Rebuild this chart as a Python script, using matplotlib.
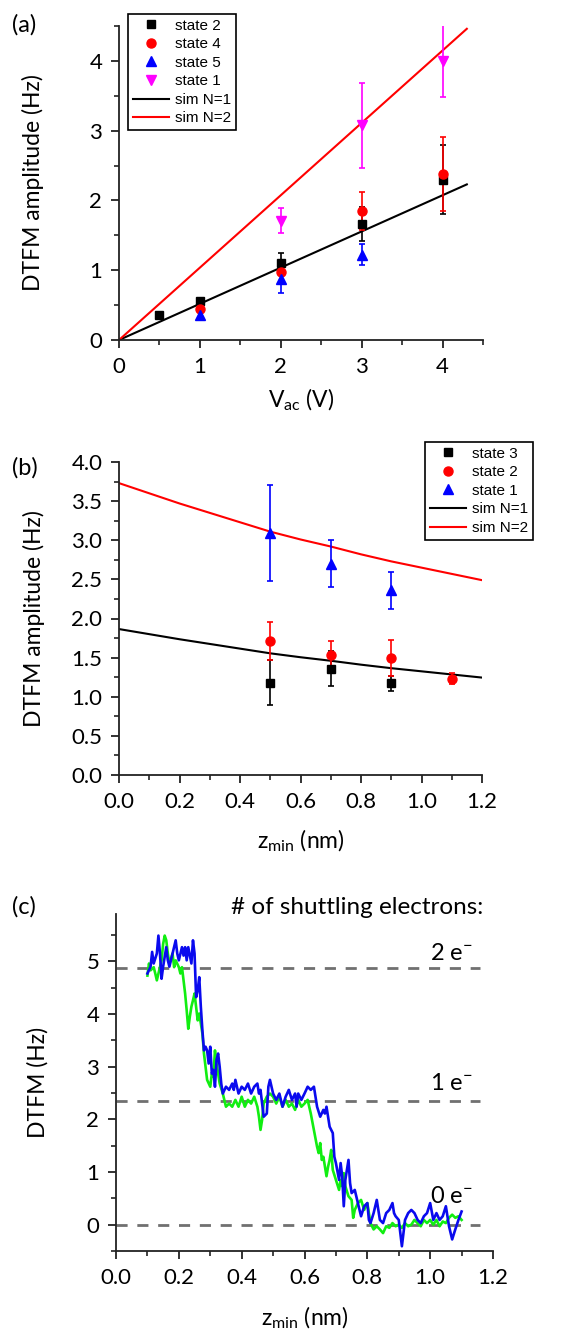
import numpy as np
import matplotlib
matplotlib.use('Agg')
import matplotlib.pyplot as plt
from matplotlib.ticker import MultipleLocator

plt.rcParams['font.family'] = ['Lato', 'DejaVu Sans']
plt.rcParams['mathtext.fontset'] = 'custom'
plt.rcParams['mathtext.rm'] = 'Lato'
plt.rcParams['mathtext.it'] = 'Lato'

# ---- panel (a) data ----
va_s2 = [0.5, 1, 2, 3, 4]
amp_s2 = [0.36, 0.56, 1.11, 1.66, 2.30]
err_s2 = [0.03, 0.04, 0.14, 0.24, 0.50]
va_s4 = [1, 2, 3, 4]
amp_s4 = [0.45, 0.97, 1.85, 2.38]
err_s4 = [0.04, 0.12, 0.27, 0.53]
va_s5 = [1, 2, 3]
amp_s5 = [0.36, 0.88, 1.22]
err_s5 = [0.05, 0.21, 0.15]
va_s1 = [2, 3, 4]
amp_s1 = [1.71, 3.08, 4.00]
err_s1 = [0.18, 0.61, 0.52]
sim_va = [0.0, 4.3]
sim_a_n1 = [0.0, 2.23]
sim_a_n2 = [0.0, 4.46]

# ---- panel (b) data ----
zb_s3 = [0.5, 0.7, 0.9]
amp_b_s3 = [1.18, 1.36, 1.17]
err_b_s3 = [0.29, 0.22, 0.10]
zb_s2 = [0.5, 0.7, 0.9, 1.1]
amp_b_s2 = [1.71, 1.53, 1.49, 1.23]
err_b_s2 = [0.24, 0.18, 0.23, 0.07]
zb_s1 = [0.5, 0.7, 0.9]
amp_b_s1 = [3.09, 2.70, 2.36]
err_b_s1 = [0.61, 0.30, 0.24]
sim_z = [0.0, 0.1, 0.2, 0.3, 0.4, 0.5, 0.6, 0.7, 0.8, 0.9, 1.0, 1.1, 1.2]
sim_b_n2 = [3.73, 3.60, 3.47, 3.35, 3.23, 3.11, 3.01, 2.92, 2.82, 2.73, 2.65, 2.57, 2.49]
sim_b_n1 = [1.865, 1.80, 1.735, 1.675, 1.615, 1.555, 1.505, 1.46, 1.41, 1.365, 1.325, 1.285, 1.245]

# ---- panel (c) data ----
z_blue = [0.100, 0.110, 0.115, 0.120, 0.130, 0.135, 0.140, 0.145, 0.150, 0.160,
          0.165, 0.170, 0.180, 0.190, 0.195, 0.200, 0.210, 0.215, 0.220, 0.225,
          0.230, 0.240, 0.245, 0.250, 0.255, 0.260, 0.265, 0.270, 0.275, 0.280,
          0.285, 0.290, 0.295, 0.300, 0.305, 0.310, 0.315, 0.320, 0.325, 0.330,
          0.335, 0.340, 0.350, 0.360, 0.370, 0.375, 0.380, 0.390, 0.400, 0.410,
          0.420, 0.430, 0.440, 0.450, 0.455, 0.460, 0.465, 0.470, 0.480, 0.485,
          0.490, 0.500, 0.510, 0.520, 0.530, 0.540, 0.550, 0.560, 0.570, 0.575,
          0.580, 0.590, 0.600, 0.610, 0.620, 0.630, 0.640, 0.650, 0.660, 0.665,
          0.670, 0.680, 0.690, 0.695, 0.700, 0.710, 0.715, 0.720, 0.725, 0.730,
          0.740, 0.745, 0.750, 0.760, 0.770, 0.780, 0.790, 0.800, 0.805, 0.810,
          0.820, 0.830, 0.840, 0.850, 0.860, 0.870, 0.880, 0.885, 0.890, 0.900,
          0.910, 0.920, 0.930, 0.940, 0.950, 0.960, 0.970, 0.980, 0.990, 1.000,
          1.010, 1.020, 1.030, 1.040, 1.050, 1.060, 1.070, 1.080, 1.090, 1.100]
df_blue = [4.77, 4.90, 5.18, 4.96, 5.15, 5.49, 5.15, 4.67, 4.90, 5.27,
           5.02, 4.90, 5.15, 5.40, 5.15, 5.02, 5.27, 5.11, 5.27, 5.02,
           5.27, 4.96, 5.40, 5.15, 4.32, 4.45, 4.70, 4.14, 3.69, 3.31,
           3.38, 3.31, 3.06, 3.38, 2.87, 2.94, 2.62, 3.13, 3.25, 3.00,
           2.68, 2.49, 2.62, 2.56, 2.68, 2.56, 2.75, 2.49, 2.62, 2.56,
           2.68, 2.49, 2.62, 2.68, 2.49, 2.56, 2.30, 2.05, 2.11, 2.62,
           2.75, 2.49, 2.37, 2.49, 2.24, 2.43, 2.56, 2.37, 2.49, 2.24,
           2.49, 2.37, 2.49, 2.62, 2.56, 2.62, 2.24, 2.05, 2.18, 2.11,
           2.24, 1.86, 1.74, 1.29, 1.17, 0.85, 1.17, 0.92, 0.35, 0.85,
           1.23, 0.79, 0.60, 0.66, 0.41, 0.16, 0.35, 0.41, 0.09, 0.03,
           0.22, 0.47, 0.09, 0.03, 0.22, 0.28, 0.41, 0.22, 0.16, 0.09,
           -0.41, 0.09, 0.22, 0.28, 0.22, 0.09, 0.03, 0.16, 0.22, 0.41,
           0.09, 0.22, 0.09, 0.16, 0.35, -0.03, -0.28, -0.09, 0.09, 0.25]
z_green = [0.100, 0.105, 0.110, 0.120, 0.125, 0.130, 0.140, 0.145, 0.150, 0.155,
           0.160, 0.165, 0.170, 0.180, 0.185, 0.190, 0.200, 0.205, 0.210, 0.215,
           0.220, 0.225, 0.230, 0.235, 0.240, 0.245, 0.250, 0.255, 0.260, 0.265,
           0.270, 0.275, 0.280, 0.285, 0.290, 0.300, 0.305, 0.310, 0.315, 0.320,
           0.330, 0.340, 0.350, 0.360, 0.370, 0.380, 0.390, 0.400, 0.410, 0.420,
           0.430, 0.440, 0.450, 0.455, 0.460, 0.465, 0.470, 0.480, 0.490, 0.500,
           0.510, 0.520, 0.530, 0.540, 0.550, 0.560, 0.570, 0.580, 0.590, 0.600,
           0.610, 0.620, 0.630, 0.640, 0.645, 0.650, 0.655, 0.660, 0.665, 0.670,
           0.675, 0.680, 0.685, 0.690, 0.700, 0.710, 0.715, 0.720, 0.725, 0.730,
           0.740, 0.750, 0.755, 0.760, 0.770, 0.780, 0.790, 0.800, 0.810, 0.820,
           0.830, 0.840, 0.850, 0.860, 0.870, 0.880, 0.890, 0.900, 0.910, 0.920,
           0.930, 0.940, 0.950, 0.960, 0.970, 0.980, 0.990, 1.000, 1.010, 1.020,
           1.030, 1.040, 1.050, 1.060, 1.070, 1.080, 1.090, 1.100]
df_green = [4.73, 4.96, 4.83, 4.89, 4.77, 4.64, 4.89, 5.02, 5.33, 5.49,
            5.40, 5.15, 4.96, 5.15, 4.89, 5.02, 4.89, 4.77, 4.89, 4.64,
            4.39, 4.07, 3.72, 3.95, 4.14, 4.26, 4.39, 4.14, 3.88, 4.01,
            3.82, 3.63, 3.25, 3.00, 2.75, 2.62, 2.87, 2.81, 3.31, 3.06,
            2.68, 2.49, 2.24, 2.30, 2.24, 2.37, 2.24, 2.43, 2.24, 2.37,
            2.30, 2.43, 2.24, 2.05, 1.80, 1.99, 2.30, 2.43, 2.49, 2.43,
            2.30, 2.43, 2.24, 2.37, 2.24, 2.30, 2.18, 2.37, 2.24, 2.30,
            2.37, 2.11, 1.80, 1.48, 1.36, 1.55, 1.23, 1.29, 1.10, 0.92,
            1.10, 1.23, 1.42, 1.04, 0.85, 0.66, 0.85, 0.73, 0.98, 0.73,
            0.54, 0.47, 0.13, 0.28, 0.41, 0.47, 0.28, 0.41, 0.03, -0.09,
            -0.03, -0.09, -0.16, -0.03, -0.06, 0.03, -0.03, 0.00, -0.06, 0.03,
            -0.03, 0.00, 0.09, 0.03, -0.03, 0.09, 0.03, 0.09, 0.00, 0.09,
            -0.03, 0.06, 0.03, 0.13, 0.19, 0.13, 0.16, 0.09]
levels = [4.87, 2.35, 0.0]
level_labels = ['2 e$^{-}$', '1 e$^{-}$', '0 e$^{-}$']
level_label_y = [5.15, 2.69, 0.53]

W, H = 570, 1332
fig = plt.figure(figsize=(W / 100, H / 100), dpi=100)


def ax_at(l, t, r, b):
    return fig.add_axes([l / W, 1 - b / H, (r - l) / W, (b - t) / H])


def style(ax):
    for s in ['top', 'right']:
        ax.spines[s].set_visible(False)
    for s in ['left', 'bottom']:
        ax.spines[s].set_linewidth(1.3)
        ax.spines[s].set_color('#222222')
    ax.tick_params(which='major', direction='out', length=6, width=1.3,
                   labelsize=16, color='#222222', pad=6)
    ax.tick_params(which='minor', direction='out', length=3.5, width=1.2,
                   color='#222222')


ms = 5.5
ekw = dict(capsize=2.5, elinewidth=1.2, capthick=1.2, linestyle='none')

# ---------------- (a) ----------------
ax1 = ax_at(119, 26, 483, 340)
style(ax1)
ax1.plot(sim_va, sim_a_n1, color='black', lw=1.5, label='sim N=1')
ax1.plot(sim_va, sim_a_n2, color='red', lw=1.5, label='sim N=2')
h2 = ax1.errorbar(va_s2, amp_s2, yerr=err_s2, fmt='s', color='black', ms=ms, **ekw)
h4 = ax1.errorbar(va_s4, amp_s4, yerr=err_s4, fmt='o', color='red', ms=ms + 1, **ekw)
h5 = ax1.errorbar(va_s5, amp_s5, yerr=err_s5, fmt='^', color='blue', ms=ms + 1, **ekw)
h1 = ax1.errorbar(va_s1, amp_s1, yerr=err_s1, fmt='v', color='magenta', ms=ms + 1, **ekw)
ax1.set_xlim(0, 4.5)
ax1.set_ylim(0, 4.5)
ax1.xaxis.set_major_locator(MultipleLocator(1))
ax1.xaxis.set_minor_locator(MultipleLocator(0.5))
ax1.yaxis.set_major_locator(MultipleLocator(1))
ax1.yaxis.set_minor_locator(MultipleLocator(0.5))
ax1.set_ylabel('DTFM amplitude (Hz)', fontsize=16.5)
ax1.yaxis.set_label_coords(-0.205, 0.5)
ax1.set_xlabel('V$_{\\mathregular{ac}}$ (V)', fontsize=16.5)
ax1.xaxis.set_label_coords(0.5, -0.15)
lines1 = ax1.get_lines()
leg1 = ax1.legend([h2[0], h4[0], h5[0], h1[0], lines1[0], lines1[1]],
                  ['state 2', 'state 4', 'state 5', 'state 1', 'sim N=1', 'sim N=2'],
                  loc='upper left', bbox_to_anchor=(128 / W, 1 - 14 / H),
                  bbox_transform=fig.transFigure, fancybox=False, framealpha=1,
                  edgecolor='black', prop={'family': 'Liberation Sans', 'size': 11},
                  handlelength=2.4, handletextpad=0.4, labelspacing=0.3,
                  borderpad=0.3, borderaxespad=0)
leg1.get_frame().set_linewidth(1.2)
fig.text(12 / W, 1 - 25 / H, '(a)', fontsize=17, va='center', ha='left')

# ---------------- (b) ----------------
ax2 = ax_at(119, 462, 482, 775)
style(ax2)
ax2.plot(sim_z, sim_b_n1, color='black', lw=1.5)
ax2.plot(sim_z, sim_b_n2, color='red', lw=1.5)
g3 = ax2.errorbar(zb_s3, amp_b_s3, yerr=err_b_s3, fmt='s', color='black', ms=ms, **ekw)
g2 = ax2.errorbar(zb_s2, amp_b_s2, yerr=err_b_s2, fmt='o', color='red', ms=ms + 1, **ekw)
g1 = ax2.errorbar(zb_s1, amp_b_s1, yerr=err_b_s1, fmt='^', color='blue', ms=ms + 1, **ekw)
ax2.set_xlim(0, 1.2)
ax2.set_ylim(0, 4.0)
ax2.xaxis.set_major_locator(MultipleLocator(0.2))
ax2.xaxis.set_minor_locator(MultipleLocator(0.1))
ax2.yaxis.set_major_locator(MultipleLocator(0.5))
ax2.yaxis.set_minor_locator(MultipleLocator(0.25))
ax2.xaxis.set_major_formatter(lambda v, p: '%.1f' % v)
ax2.yaxis.set_major_formatter(lambda v, p: '%.1f' % v)
ax2.set_ylabel('DTFM amplitude (Hz)', fontsize=16.5)
ax2.yaxis.set_label_coords(-0.205, 0.5)
ax2.set_xlabel('z$_{\\mathregular{min}}$ (nm)', fontsize=16.5)
ax2.xaxis.set_label_coords(0.5, -0.17)
lines2 = ax2.get_lines()
leg2 = ax2.legend([g3[0], g2[0], g1[0], lines2[0], lines2[1]],
                  ['state 3', 'state 2', 'state 1', 'sim N=1', 'sim N=2'],
                  loc='upper left', bbox_to_anchor=(425 / W, 1 - 442 / H),
                  bbox_transform=fig.transFigure, fancybox=False, framealpha=1,
                  edgecolor='black', prop={'family': 'Liberation Sans', 'size': 11},
                  handlelength=2.4, handletextpad=0.4, labelspacing=0.3,
                  borderpad=0.3, borderaxespad=0)
leg2.get_frame().set_linewidth(1.2)
fig.text(12 / W, 1 - 468 / H, '(b)', fontsize=17, va='center', ha='left')

# ---------------- (c) ----------------
ax3 = ax_at(116, 914, 493, 1251)
style(ax3)
for lv in levels:
    ax3.plot([0, 1.16], [lv, lv], color='#707070', lw=2, dashes=(4, 3.5))
ax3.plot(z_green, df_green, color='#11ee11', lw=1.9)
ax3.plot(z_blue, df_blue, color='#0a0aee', lw=1.9)
for lab, ly in zip(level_labels, level_label_y):
    ax3.text(1.135, ly, lab, fontsize=17, ha='right', va='center')
ax3.set_xlim(0, 1.2)
ax3.set_ylim(-0.5, 5.9)
ax3.xaxis.set_major_locator(MultipleLocator(0.2))
ax3.xaxis.set_minor_locator(MultipleLocator(0.1))
ax3.yaxis.set_major_locator(MultipleLocator(1))
ax3.yaxis.set_minor_locator(MultipleLocator(0.5))
ax3.set_yticks([0, 1, 2, 3, 4, 5])
ax3.xaxis.set_major_formatter(lambda v, p: '%.1f' % v)
ax3.set_ylabel('DTFM (Hz)', fontsize=16.5)
ax3.yaxis.set_label_coords(-0.18, 0.5)
ax3.set_xlabel('z$_{\\mathregular{min}}$ (nm)', fontsize=16.5)
ax3.xaxis.set_label_coords(0.5, -0.16)
fig.text(483 / W, 1 - 907 / H, '# of shuttling electrons:', fontsize=17.5,
         ha='right', va='center')
fig.text(12 / W, 1 - 907 / H, '(c)', fontsize=17, va='center', ha='left')

fig.savefig('out.png', dpi=100)
